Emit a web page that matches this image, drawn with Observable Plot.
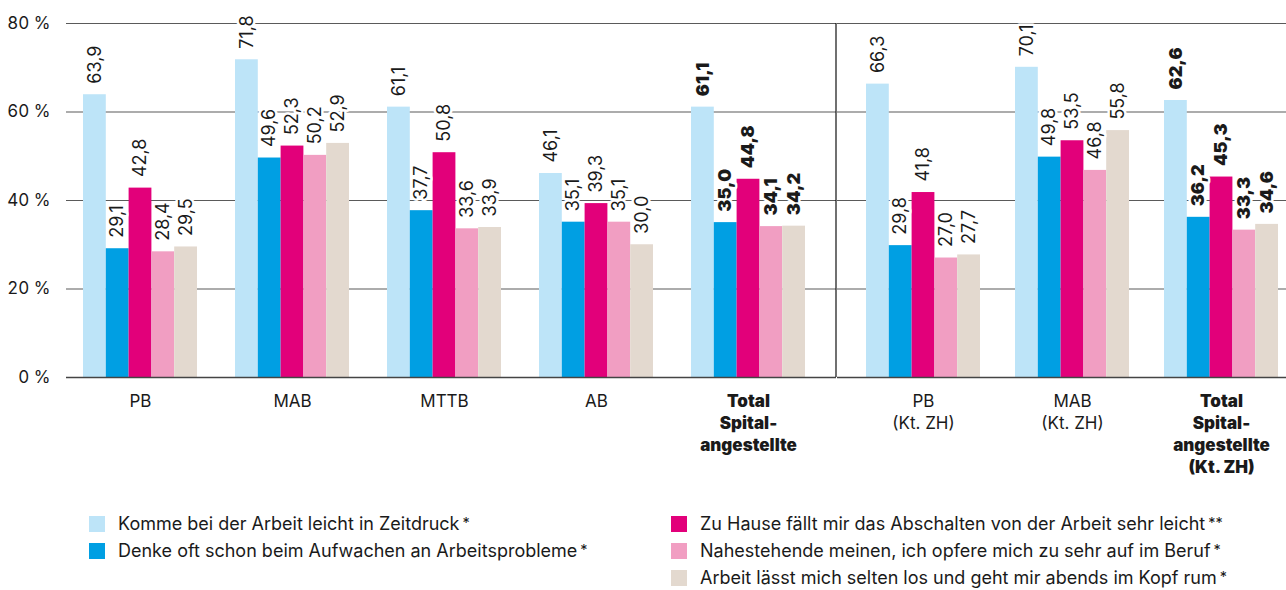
<!DOCTYPE html>
<html>
<head>
<meta charset="utf-8">
<script src="https://cdn.jsdelivr.net/npm/d3@7"></script>
<script src="https://cdn.jsdelivr.net/npm/@observablehq/plot@0.6"></script>
<style>
  html, body { margin: 0; padding: 0; background: #fff; }
  body { font-family: Inter, "Liberation Sans", Arial, sans-serif; color: #1a1a1a; width: 1286px; }
  #charts { display: flex; flex-direction: row; }
  #legend { display: grid; grid-template-columns: 582px auto; padding-left: 89px; padding-top: 20px; font-size: 18px; }
  .item { display: flex; align-items: center; height: 27px; white-space: nowrap; }
  .sw { width: 16px; height: 16px; margin-right: 13px; flex: none; }
  .ast { font-size: 0.8em; position: relative; top: -0.15em; margin-left: 3px; }
</style>
</head>
<body>
<div id="charts"></div>
<div id="legend"></div>
<script>
// ---- data ----
const groups = ["PB", "MAB", "MTTB", "AB", "Total", "PB ZH", "MAB ZH", "Total ZH"];
const groupLabels = ["PB", "MAB", "MTTB", "AB", "Total\nSpital-\nangestellte", "PB\n(Kt. ZH)", "MAB\n(Kt. ZH)", "Total\nSpital-\nangestellte\n(Kt. ZH)"];
const groupBold = [false, false, false, false, true, false, false, true];
const groupPanel = ["left", "left", "left", "left", "left", "right", "right", "right"];

const seriesNames = [
  "Komme bei der Arbeit leicht in Zeitdruck",
  "Denke oft schon beim Aufwachen an Arbeitsprobleme",
  "Zu Hause fällt mir das Abschalten von der Arbeit sehr leicht",
  "Nahestehende meinen, ich opfere mich zu sehr auf im Beruf",
  "Arbeit lässt mich selten los und geht mir abends im Kopf rum"
];
const seriesNotes = ["*", "*", "**", "*", "*"];
const seriesColors = ["#bde4f8", "#009fe3", "#e2007a", "#f19ec2", "#e3d9cf"];

const zeitdruck  = [63.9, 71.8, 61.1, 46.1, 61.1, 66.3, 70.1, 62.6];
const aufwachen  = [29.1, 49.6, 37.7, 35.1, 35.0, 29.8, 49.8, 36.2];
const abschalten = [42.8, 52.3, 50.8, 39.3, 44.8, 41.8, 53.5, 45.3];
const aufopfern  = [28.4, 50.2, 33.6, 35.1, 34.1, 27.0, 46.8, 33.3];
const abends     = [29.5, 52.9, 33.9, 30.0, 34.2, 27.7, 55.8, 34.6];
const seriesValues = [zeitdruck, aufwachen, abschalten, aufopfern, abends];

const yTicks = [0, 20, 40, 60, 80];

// ---- table ----
const rows = [];
groups.forEach((g, gi) => {
  seriesValues.forEach((vals, si) => {
    rows.push({group: g, label: groupLabels[gi], bold: groupBold[gi], panel: groupPanel[gi], si, value: vals[gi]});
  });
});
const groupRows = groups.map((g, gi) => ({group: g, label: groupLabels[gi], bold: groupBold[gi], panel: groupPanel[gi]}));

const fmt = v => v.toFixed(1).replace(".", ",");
const H = 490, MT = 23, MB = 113;
const BW = 114 / 5; // bar width within a group band

function makePlot(panel, cfg) {
  const data = rows.filter(r => r.panel === panel);
  const gdata = groupRows.filter(r => r.panel === panel);
  const marks = [];
  marks.push(Plot.ruleY(yTicks.filter(d => d > 0), {stroke: "#5a5a5a", strokeWidth: 1.2}));
  seriesValues.forEach((_, si) => {
    marks.push(Plot.barY(data.filter(r => r.si === si), {
      x: "group", y: "value", fill: seriesColors[si],
      insetLeft: si * BW, insetRight: (4 - si) * BW
    }));
  });
  marks.push(Plot.ruleY([0], {stroke: "#444", strokeWidth: 1.6}));
  seriesValues.forEach((_, si) => {
    [false, true].forEach(b => {
      marks.push(Plot.text(data.filter(r => r.si === si && r.bold === b), {
        x: "group", y: "value", text: d => fmt(d.value),
        rotate: -90, textAnchor: "start", lineAnchor: "middle",
        dx: (si - 2) * BW, dy: -11,
        fontSize: 18, fontWeight: b ? 900 : 400,
        fill: "#1a1a1a", stroke: "white", strokeWidth: 5, paintOrder: "stroke", strokeLinejoin: "round"
      }));
    });
  });
  [false, true].forEach(b => {
    marks.push(Plot.text(gdata.filter(r => r.bold === b), {
      x: "group", text: "label", frameAnchor: "bottom", lineAnchor: "top", dy: 14,
      fontSize: 17, lineHeight: 1.3, fontWeight: b ? 900 : 400, fill: "#1a1a1a"
    }));
  });
  if (cfg.axis) {
    marks.push(Plot.axisY({ticks: yTicks, tickFormat: d => `${d} %`, tickSize: 0, tickPadding: 16, fontSize: 17, label: null}));
  }
  if (cfg.separator) {
    const xs = cfg.width - cfg.marginRight;
    marks.push(() => {
      const l = d3.create("svg:line")
        .attr("x1", xs).attr("x2", xs).attr("y1", MT).attr("y2", H - MB)
        .attr("stroke", "#111").attr("stroke-width", 1.2);
      return l.node();
    });
  }
  return Plot.plot({
    width: cfg.width, height: H,
    marginLeft: cfg.marginLeft, marginRight: cfg.marginRight, marginTop: MT, marginBottom: MB,
    style: {fontFamily: "Inter, Liberation Sans, Arial, sans-serif", color: "#1a1a1a", background: "white", overflow: "visible"},
    x: {domain: gdata.map(d => d.group), type: "band", paddingInner: cfg.pi, paddingOuter: cfg.po, align: cfg.align, axis: null},
    y: {domain: [0, 80], axis: null},
    marks
  });
}

const left = makePlot("left", {width: 837, marginLeft: 66, marginRight: 1, pi: 0.2512, po: 0.154, align: 0.362, axis: true, separator: true});
const right = makePlot("right", {width: 449, marginLeft: 0, marginRight: 0, pi: 0.2349, po: 0.124, align: 0.784, axis: false, separator: false});
document.getElementById("charts").append(left, right);

// ---- legend ----
const legend = document.getElementById("legend");
const order = [0, 2, 1, 3, null, 4];
order.forEach(si => {
  const item = document.createElement("div");
  item.className = "item";
  if (si !== null) {
    item.innerHTML = `<span class="sw" style="background:${seriesColors[si]}"></span><span>${seriesNames[si]}<span class="ast">${seriesNotes[si]}</span></span>`;
  }
  legend.append(item);
});
</script>
</body>
</html>
